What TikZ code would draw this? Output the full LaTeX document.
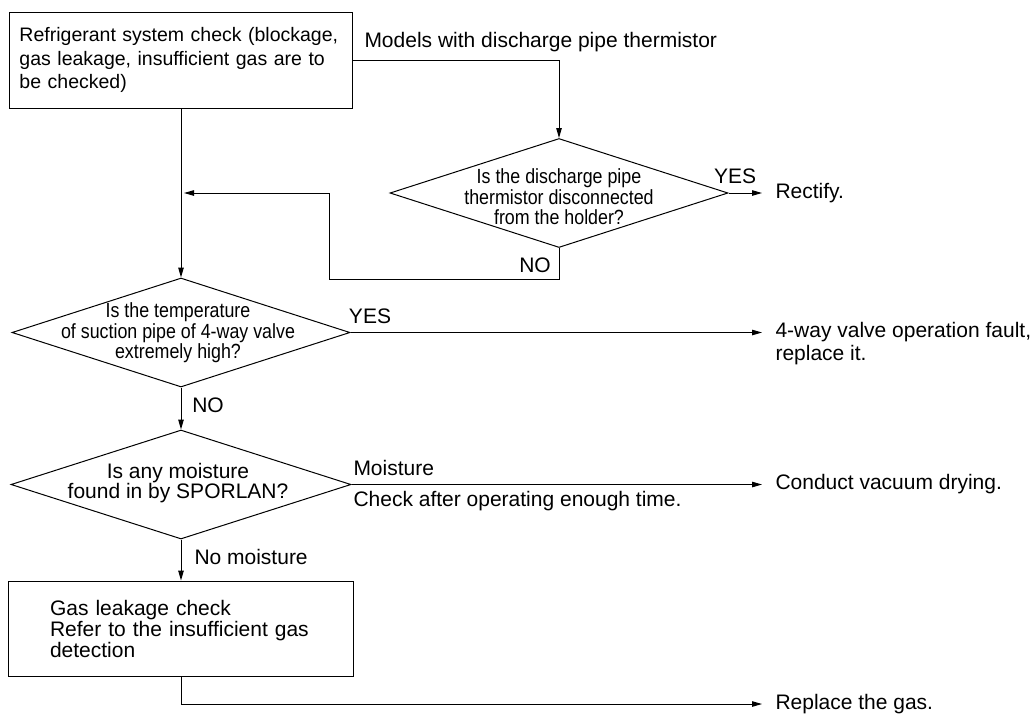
\documentclass[tikz,border=0pt]{standalone}
\usepackage{fontspec}
\setmainfont{Liberation Sans}
\newfontfamily\narrowfont{Liberation Sans}[FakeStretch=0.87]
\usetikzlibrary{shapes.geometric,arrows.meta}
\begin{document}
\begin{tikzpicture}[x=1pt, y=-1pt, line width=1pt,
  font=\fontsize{21}{23}\selectfont,
  arr/.style={-{Triangle[length=10pt,width=5.5pt]}},
  box/.style={draw, rectangle, align=left, inner sep=0pt},
  dia/.style={draw, diamond, inner sep=0pt, minimum width=338pt, minimum height=109pt},
  ask/.style={align=center, inner sep=0pt, font=\narrowfont\fontsize{20.5}{20.5}\selectfont},
  lbl/.style={inner sep=0pt},
  result/.style={anchor=west, align=left, inner xsep=13pt, inner ysep=0pt}]
  \useasboundingbox (0,0) rectangle (1035,713);

  % boxes and questions
  \node[box, minimum width=343pt, minimum height=96pt, text width=323pt, font=\fontsize{19.5}{23.5}\selectfont] (check) at (181,60) {Refrigerant system check (blockage,\\ gas leakage, insufficient gas are to\\ be checked)};
  \node[dia] (thermo) at (559,193) {};
  \node[ask] at (559,197) {Is the discharge pipe\\ thermistor disconnected\\ from the holder?};
  \node[dia] (temp) at (181,332.5) {};
  \node[ask] at (178,333) {Is the temperature\\ of suction pipe of 4-way valve\\ extremely high?};
  \node[dia, minimum width=340pt] (moist) at (181,484.5) {};
  \node[ask, font=\fontsize{21}{20}\selectfont] at (178,483) {Is any moisture\\ found in by SPORLAN?};
  \node[box, minimum width=345pt, minimum height=95pt, text width=262pt, font=\fontsize{21}{21}\selectfont] (leak) at (181,628.5) {Gas leakage check\\ Refer to the insufficient gas\\ detection};

  % results
  \node[result] (rectify) at (762,193) {Rectify.};
  \node[result] (fault) at (762,344) {4-way valve operation fault,\\ replace it.};
  \node[result] (drying) at (762,484.5) {Conduct vacuum drying.};
  \node[result] (regas) at (762,704) {Replace the gas.};

  % branch labels
  \node[lbl, anchor=west] (models) at (364,42) {Models with discharge pipe thermistor};
  \node[lbl] (yes1) at (735,176) {YES};
  \node[lbl] (no1) at (535,265) {NO};
  \node[lbl] (yes2) at (370,316) {YES};
  \node[lbl] (no2) at (208,405) {NO};
  \node[lbl, anchor=west] (wet) at (353,468) {Moisture};
  \node[lbl, anchor=west] (later) at (353,501) {Check after operating enough time.};
  \node[lbl, anchor=west] (dry) at (194,557) {No moisture};

  \coordinate (merge) at (184,193);
  \coordinate (bend) at (329,279);
  \draw[arr] (check.east) -| (thermo.north);
  \draw[arr] (thermo.east) -- (rectify.west);
  \draw[arr] (thermo.south) |- (bend) |- (merge);
  \draw[arr] (check.south) -- (temp.north);
  \draw[arr] (temp.east) -- (temp.east -| fault.west);
  \draw[arr] (temp.south) -- (moist.north);
  \draw[arr] (moist.east) -- (drying.west);
  \draw[arr] (moist.south) -- (leak.north);
  \draw[arr] (leak.south) |- (regas.west);
\end{tikzpicture}
\end{document}
